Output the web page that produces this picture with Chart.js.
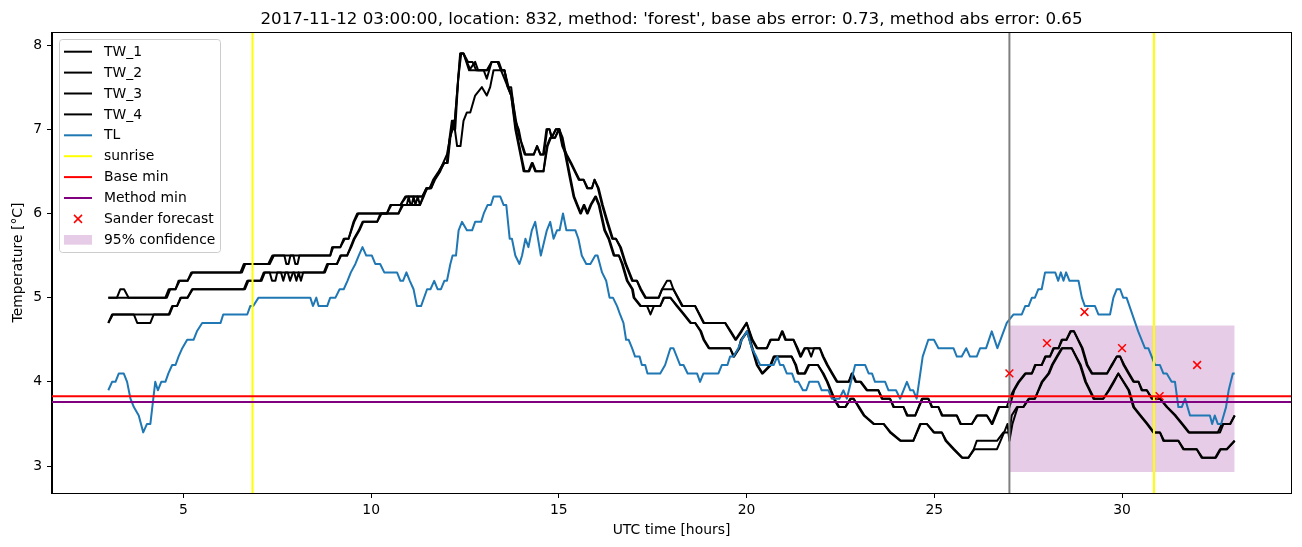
<!DOCTYPE html>
<html>
<head>
<meta charset="utf-8">
<script src="https://cdn.jsdelivr.net/npm/chart.js@4.4.1/dist/chart.umd.min.js"></script>
<style>
  html, body { margin: 0; padding: 0; background: #ffffff; }
  #wrap { width: 1302px; height: 547px; }
</style>
</head>
<body>
<div id="wrap"><canvas id="chart" width="1302" height="547"></canvas></div>
<script>
// [time in hours, temperature]
const tw1 = [[3.00,5.0],[3.23,5.0],[3.32,5.1],[3.42,5.1],[3.54,5.0],[4.52,5.0],[4.61,5.1],[4.79,5.1],[4.87,5.2],[5.11,5.2],[5.21,5.3],[6.52,5.3],[6.61,5.4],[7.26,5.4],[7.37,5.5],[7.69,5.5],[7.74,5.4],[7.80,5.4],[7.85,5.5],[8.91,5.5],[8.96,5.6],[9.18,5.6],[9.27,5.7],[9.40,5.7],[9.53,5.9],[9.63,6.0],[10.42,6.0],[10.51,6.1],[10.78,6.1],[10.91,6.2],[11.36,6.2],[11.47,6.3],[11.56,6.3],[11.65,6.4],[11.80,6.5],[11.93,6.6],[12.02,6.6],[12.09,6.9],[12.15,7.1],[12.21,7.0],[12.30,7.5],[12.37,7.9],[12.46,7.9],[12.61,7.7],[12.77,7.8],[12.85,7.7],[13.00,7.7],[13.08,7.6],[13.21,7.8],[13.37,7.8],[13.46,7.7],[13.55,7.7],[13.64,7.5],[13.73,7.5],[13.84,7.1],[13.93,7.0],[14.02,6.8],[14.09,6.7],[14.33,6.7],[14.42,6.8],[14.51,6.7],[14.58,6.7],[14.67,7.0],[14.75,7.0],[14.81,6.9],[14.92,7.0],[15.00,7.0],[15.09,6.8],[15.19,6.7],[15.31,6.6],[15.42,6.5],[15.53,6.4],[15.66,6.4],[15.75,6.3],[15.88,6.3],[15.95,6.4],[16.04,6.3],[16.15,6.1],[16.28,5.9],[16.42,5.7],[16.52,5.7],[16.63,5.6],[16.77,5.4],[16.86,5.3],[16.95,5.2],[17.08,5.2],[17.17,5.1],[17.30,5.0],[17.66,5.0],[17.75,5.1],[17.88,5.2],[17.97,5.2],[18.05,5.1],[18.28,4.9],[18.63,4.9],[18.85,4.7],[19.43,4.7],[19.56,4.6],[19.70,4.5],[19.85,4.6],[20.00,4.7],[20.14,4.5],[20.27,4.4],[20.54,4.4],[20.63,4.5],[20.85,4.5],[20.94,4.6],[21.03,4.5],[21.25,4.5],[21.34,4.4],[21.43,4.3],[21.54,4.4],[21.63,4.4],[21.72,4.3],[21.80,4.4],[21.95,4.4],[22.03,4.3],[22.14,4.2],[22.27,4.1],[22.40,4.0],[22.72,4.0],[22.80,4.1],[22.90,4.0],[23.03,4.0],[23.20,3.9],[23.51,3.9],[23.60,3.8],[23.82,3.8],[23.91,3.7],[24.18,3.7],[24.27,3.6],[24.49,3.6],[24.67,3.8],[24.84,3.8],[24.93,3.7],[25.11,3.7],[25.20,3.6],[25.60,3.6],[25.69,3.5],[26.00,3.5],[26.13,3.6],[26.40,3.6],[26.53,3.5],[26.71,3.7],[26.93,3.7],[27.00,3.8],[27.11,3.9],[27.24,4.0],[27.42,4.1],[27.60,4.1],[27.68,4.2],[27.86,4.2],[27.95,4.3],[28.08,4.3],[28.17,4.4],[28.31,4.4],[28.39,4.5],[28.52,4.5],[28.62,4.6],[28.72,4.6],[28.93,4.4],[29.06,4.2],[29.19,4.1],[29.60,4.1],[29.72,4.2],[29.86,4.3],[29.95,4.3],[30.04,4.2],[30.17,4.1],[30.30,4.0],[30.44,4.0],[30.52,3.9],[30.66,3.9],[30.79,3.8],[31.01,3.8],[31.19,3.7],[31.41,3.6],[31.59,3.5],[31.77,3.4],[32.61,3.4],[32.70,3.5],[32.88,3.5],[33.00,3.6]];

const tw2 = [[3.00,4.7],[3.10,4.8],[3.68,4.8],[3.77,4.7],[4.12,4.7],[4.21,4.8],[4.61,4.8],[4.70,4.9],[4.83,4.9],[4.92,5.0],[5.11,5.0],[5.23,5.1],[6.61,5.1],[6.70,5.2],[7.05,5.2],[7.14,5.3],[7.30,5.3],[7.36,5.2],[7.45,5.2],[7.50,5.3],[7.78,5.3],[7.84,5.2],[7.92,5.3],[8.74,5.3],[8.83,5.4],[9.09,5.4],[9.18,5.5],[9.36,5.5],[9.45,5.6],[9.54,5.7],[9.67,5.8],[9.77,5.9],[10.16,5.9],[10.25,6.0],[10.73,6.0],[10.82,6.1],[10.95,6.1],[11.00,6.2],[11.05,6.1],[11.30,6.1],[11.38,6.2],[11.47,6.3],[11.60,6.3],[11.68,6.4],[11.82,6.5],[11.92,6.6],[12.02,6.7],[12.10,6.9],[12.17,7.0],[12.24,7.0],[12.32,7.6],[12.40,7.9],[12.46,7.9],[12.55,7.8],[12.65,7.7],[13.08,7.7],[13.21,7.8],[13.37,7.8],[13.46,7.7],[13.55,7.7],[13.64,7.5],[13.73,7.4],[13.84,7.0],[14.02,6.6],[14.06,6.5],[14.19,6.5],[14.28,6.6],[14.37,6.5],[14.59,6.5],[14.68,6.8],[14.77,6.9],[14.90,6.9],[14.99,7.0],[15.08,6.9],[15.30,6.4],[15.39,6.2],[15.48,6.1],[15.57,6.0],[15.66,6.1],[15.75,6.0],[15.84,6.1],[15.97,6.2],[16.06,6.1],[16.21,5.8],[16.32,5.7],[16.46,5.5],[16.60,5.5],[16.68,5.4],[16.81,5.2],[16.95,5.1],[16.99,5.0],[17.17,4.9],[17.35,4.9],[17.44,4.8],[17.53,4.9],[17.70,4.9],[17.79,5.0],[17.97,5.0],[18.14,4.9],[18.32,4.8],[18.50,4.7],[18.63,4.7],[18.77,4.6],[18.85,4.5],[18.99,4.4],[19.56,4.4],[19.65,4.3],[19.79,4.4],[19.85,4.5],[20.01,4.6],[20.14,4.4],[20.27,4.2],[20.41,4.1],[20.63,4.2],[20.72,4.3],[20.90,4.3],[21.20,4.3],[21.30,4.2],[21.36,4.1],[21.54,4.1],[21.65,4.2],[21.90,4.2],[22.03,4.1],[22.14,4.0],[22.23,3.9],[22.32,3.8],[22.45,3.7],[22.63,3.7],[22.76,3.8],[22.85,3.8],[22.98,3.7],[23.12,3.6],[23.38,3.5],[23.65,3.5],[23.82,3.4],[24.09,3.3],[24.44,3.3],[24.62,3.5],[24.80,3.5],[24.98,3.4],[25.20,3.4],[25.30,3.3],[25.51,3.2],[25.73,3.1],[25.91,3.1],[26.05,3.2],[26.13,3.3],[26.45,3.3],[26.67,3.3],[26.84,3.4],[27.00,3.4],[27.06,3.6],[27.20,3.7],[27.37,3.7],[27.51,3.8],[27.68,3.8],[27.86,4.0],[28.04,4.1],[28.13,4.2],[28.26,4.3],[28.39,4.4],[28.66,4.4],[28.88,4.2],[29.02,4.0],[29.24,3.8],[29.50,3.8],[29.64,3.9],[29.77,4.0],[29.90,4.1],[30.17,3.9],[30.30,3.7],[30.48,3.6],[30.66,3.5],[30.83,3.4],[31.01,3.4],[31.10,3.3],[31.50,3.3],[31.63,3.2],[31.99,3.2],[32.12,3.1],[32.48,3.1],[32.61,3.2],[32.79,3.2],[33.00,3.3]];

const tw3 = [[3.00,5.0],[4.56,5.0],[4.65,5.1],[4.79,5.1],[4.90,5.2],[5.11,5.2],[5.24,5.3],[6.56,5.3],[6.65,5.4],[7.30,5.4],[7.41,5.5],[7.93,5.5],[7.98,5.4],[8.04,5.4],[8.09,5.5],[8.91,5.5],[8.99,5.6],[9.18,5.6],[9.30,5.7],[9.40,5.7],[9.55,5.9],[9.66,6.0],[10.42,6.0],[10.54,6.1],[10.78,6.1],[10.94,6.2],[11.36,6.2],[11.50,6.3],[11.56,6.3],[11.68,6.4],[11.82,6.5],[11.95,6.6],[12.04,6.6],[12.11,6.9],[12.17,7.1],[12.23,7.1],[12.32,7.6],[12.38,7.9],[12.46,7.9],[12.58,7.8],[12.70,7.8],[12.80,7.7],[13.00,7.7],[13.10,7.7],[13.21,7.8],[13.40,7.8],[13.48,7.7],[13.55,7.7],[13.66,7.5],[13.75,7.4],[13.86,7.1],[13.95,6.9],[14.04,6.8],[14.11,6.7],[14.33,6.7],[14.42,6.8],[14.51,6.7],[14.60,6.7],[14.69,7.0],[14.75,7.0],[14.81,6.9],[14.92,7.0],[15.02,7.0],[15.11,6.8],[15.21,6.7],[15.33,6.6],[15.44,6.5],[15.55,6.4],[15.66,6.4],[15.77,6.3],[15.88,6.3],[15.95,6.4],[16.06,6.3],[16.17,6.1],[16.30,5.9],[16.44,5.7],[16.52,5.7],[16.65,5.6],[16.79,5.4],[16.88,5.3],[16.97,5.2],[17.08,5.2],[17.19,5.1],[17.32,5.0],[17.66,5.0],[17.75,5.1],[18.05,5.1],[18.30,4.9],[18.63,4.9],[18.87,4.7],[19.43,4.7],[19.58,4.6],[19.72,4.5],[19.87,4.6],[20.00,4.7],[20.16,4.5],[20.29,4.4],[20.54,4.4],[20.65,4.5],[20.85,4.5],[20.96,4.6],[21.05,4.5],[21.25,4.5],[21.36,4.4],[21.45,4.3],[21.56,4.4],[21.95,4.4],[22.05,4.3],[22.16,4.2],[22.29,4.1],[22.42,4.0],[22.72,4.0],[22.82,4.1],[22.92,4.0],[23.05,4.0],[23.22,3.9],[23.51,3.9],[23.62,3.8],[23.82,3.8],[23.93,3.7],[24.18,3.7],[24.29,3.6],[24.49,3.6],[24.69,3.8],[24.84,3.8],[24.95,3.7],[25.11,3.7],[25.22,3.6],[25.60,3.6],[25.71,3.5],[26.00,3.5],[26.15,3.6],[26.40,3.6],[26.55,3.5],[26.73,3.7],[27.00,3.7],[27.13,3.9],[27.26,4.0],[27.44,4.1],[27.60,4.1],[27.70,4.2],[27.86,4.2],[27.97,4.3],[28.08,4.3],[28.19,4.4],[28.31,4.4],[28.41,4.5],[28.52,4.5],[28.64,4.6],[28.72,4.6],[28.95,4.4],[29.08,4.2],[29.21,4.1],[29.60,4.1],[29.74,4.2],[29.86,4.3],[29.95,4.3],[30.06,4.2],[30.19,4.1],[30.32,4.0],[30.44,4.0],[30.54,3.9],[30.66,3.9],[30.81,3.8],[31.01,3.8],[31.21,3.7],[31.43,3.6],[31.61,3.5],[31.79,3.4],[32.55,3.4],[32.66,3.5],[32.88,3.5],[33.00,3.6]];

const tw4 = [[3.00,4.7],[3.12,4.8],[4.63,4.8],[4.72,4.9],[4.83,4.9],[4.94,5.0],[5.11,5.0],[5.25,5.1],[6.64,5.1],[6.73,5.2],[7.08,5.2],[7.17,5.3],[7.60,5.3],[7.66,5.2],[7.72,5.3],[7.95,5.3],[8.01,5.2],[8.07,5.3],[8.13,5.2],[8.19,5.3],[8.77,5.3],[8.86,5.4],[9.09,5.4],[9.20,5.5],[9.36,5.5],[9.47,5.6],[9.56,5.7],[9.69,5.8],[9.79,5.9],[10.16,5.9],[10.28,6.0],[10.73,6.0],[10.85,6.1],[11.08,6.1],[11.13,6.2],[11.18,6.1],[11.24,6.2],[11.30,6.1],[11.40,6.2],[11.49,6.3],[11.60,6.3],[11.70,6.4],[11.84,6.5],[11.94,6.6],[12.02,6.6],[12.10,6.9],[12.20,7.1],[12.29,6.8],[12.38,6.8],[12.46,7.1],[12.55,7.2],[12.64,7.2],[12.77,7.4],[12.95,7.5],[13.08,7.4],[13.17,7.5],[13.26,7.7],[13.46,7.7],[13.55,7.6],[13.64,7.5],[13.73,7.4],[13.86,7.0],[14.04,6.6],[14.09,6.5],[14.21,6.5],[14.30,6.6],[14.39,6.5],[14.59,6.5],[14.70,6.8],[14.79,6.9],[14.90,6.9],[15.01,7.0],[15.10,6.9],[15.32,6.4],[15.41,6.2],[15.50,6.1],[15.59,6.0],[15.68,6.1],[15.77,6.0],[15.86,6.1],[15.99,6.2],[16.08,6.1],[16.23,5.8],[16.34,5.7],[16.48,5.5],[16.60,5.5],[16.70,5.4],[16.83,5.2],[16.97,5.1],[17.01,5.0],[17.19,4.9],[17.70,4.9],[17.81,5.0],[17.97,5.0],[18.16,4.9],[18.34,4.8],[18.52,4.7],[18.63,4.7],[18.79,4.6],[18.87,4.5],[19.01,4.4],[19.56,4.4],[19.67,4.3],[19.81,4.4],[19.87,4.5],[20.03,4.6],[20.16,4.4],[20.29,4.2],[20.43,4.1],[20.65,4.2],[20.74,4.3],[21.20,4.3],[21.32,4.2],[21.38,4.1],[21.56,4.1],[21.67,4.2],[21.90,4.2],[22.05,4.1],[22.16,4.0],[22.25,3.9],[22.34,3.8],[22.47,3.7],[22.63,3.7],[22.78,3.8],[22.85,3.8],[23.00,3.7],[23.14,3.6],[23.40,3.5],[23.65,3.5],[23.84,3.4],[24.11,3.3],[24.44,3.3],[24.64,3.5],[24.80,3.5],[25.00,3.4],[25.20,3.4],[25.32,3.3],[25.53,3.2],[25.75,3.1],[25.91,3.1],[26.07,3.2],[26.67,3.2],[26.86,3.4],[26.95,3.5],[27.00,3.3],[27.08,3.5],[27.22,3.7],[27.37,3.7],[27.53,3.8],[27.68,3.8],[27.88,4.0],[28.06,4.1],[28.15,4.2],[28.28,4.3],[28.41,4.4],[28.66,4.4],[28.90,4.2],[29.04,4.0],[29.26,3.8],[29.50,3.8],[29.66,3.9],[29.79,4.0],[29.90,4.1],[30.19,3.9],[30.32,3.7],[30.50,3.6],[30.68,3.5],[30.85,3.4],[31.01,3.4],[31.12,3.3],[31.50,3.3],[31.65,3.2],[31.99,3.2],[32.14,3.1],[32.50,3.1],[32.63,3.2],[32.79,3.2],[33.00,3.3]];

const tl = [[3.00,3.9],[3.10,4.0],[3.19,4.0],[3.28,4.1],[3.41,4.1],[3.50,4.0],[3.59,3.8],[3.68,3.7],[3.81,3.6],[3.93,3.4],[4.03,3.5],[4.12,3.5],[4.25,4.0],[4.32,3.9],[4.41,4.0],[4.52,4.0],[4.60,4.1],[4.70,4.2],[4.79,4.2],[4.87,4.3],[4.97,4.4],[5.10,4.5],[5.27,4.5],[5.36,4.6],[5.50,4.7],[5.99,4.7],[6.06,4.8],[6.70,4.8],[6.78,4.9],[6.86,4.9],[7.00,5.0],[8.38,5.0],[8.45,4.9],[8.54,5.0],[8.60,4.9],[8.83,4.9],[8.91,5.0],[9.05,5.0],[9.16,5.1],[9.27,5.1],[9.37,5.2],[9.46,5.3],[9.58,5.4],[9.67,5.5],[9.77,5.6],[9.87,5.5],[10.02,5.5],[10.11,5.4],[10.24,5.4],[10.35,5.3],[10.69,5.3],[10.78,5.2],[10.85,5.2],[10.94,5.3],[11.03,5.2],[11.13,5.1],[11.22,4.9],[11.33,4.9],[11.49,5.1],[11.58,5.1],[11.68,5.2],[11.77,5.1],[11.86,5.1],[11.95,5.2],[12.02,5.2],[12.11,5.4],[12.17,5.5],[12.26,5.5],[12.33,5.8],[12.42,5.9],[12.55,5.8],[12.69,5.8],[12.77,5.9],[12.93,5.9],[13.00,6.0],[13.10,6.1],[13.19,6.1],[13.26,6.2],[13.44,6.2],[13.53,6.1],[13.60,6.1],[13.69,5.7],[13.75,5.7],[13.84,5.5],[13.95,5.4],[14.02,5.5],[14.11,5.7],[14.19,5.6],[14.28,5.8],[14.37,5.9],[14.52,5.5],[14.68,5.8],[14.77,5.9],[14.86,5.7],[14.95,5.8],[15.02,5.8],[15.11,6.0],[15.20,5.8],[15.44,5.8],[15.52,5.7],[15.61,5.5],[15.73,5.4],[15.84,5.4],[15.97,5.5],[16.03,5.5],[16.15,5.3],[16.26,5.2],[16.35,5.0],[16.44,5.0],[16.55,4.9],[16.63,4.8],[16.72,4.7],[16.79,4.5],[16.86,4.5],[16.95,4.4],[17.03,4.3],[17.15,4.3],[17.21,4.2],[17.30,4.2],[17.36,4.1],[17.70,4.1],[17.83,4.2],[17.97,4.4],[18.05,4.4],[18.14,4.3],[18.23,4.2],[18.32,4.2],[18.43,4.1],[18.68,4.1],[18.76,4.0],[18.85,4.1],[19.25,4.1],[19.34,4.2],[19.49,4.2],[19.56,4.3],[19.65,4.3],[19.78,4.4],[19.87,4.5],[20.01,4.6],[20.14,4.4],[20.26,4.3],[20.36,4.2],[20.72,4.2],[20.82,4.3],[20.89,4.2],[20.98,4.2],[21.07,4.1],[21.21,4.1],[21.29,4.0],[21.38,4.0],[21.50,3.9],[21.59,3.9],[21.67,4.0],[21.91,4.0],[22.00,3.9],[22.18,3.9],[22.27,3.8],[22.47,3.8],[22.58,3.9],[22.67,3.8],[22.89,4.2],[23.16,4.2],[23.25,4.1],[23.34,4.1],[23.42,4.0],[23.69,4.0],[23.78,3.9],[23.98,3.9],[24.09,3.8],[24.27,4.0],[24.36,3.9],[24.44,3.9],[24.53,3.8],[24.69,4.3],[24.84,4.5],[24.99,4.5],[25.11,4.4],[25.51,4.4],[25.60,4.3],[25.73,4.3],[25.85,4.4],[25.95,4.3],[26.13,4.3],[26.22,4.4],[26.38,4.4],[26.53,4.6],[26.68,4.4],[26.93,4.7],[27.11,4.8],[27.33,4.8],[27.42,4.9],[27.51,4.9],[27.60,5.0],[27.68,5.0],[27.77,5.1],[27.86,5.1],[27.95,5.3],[28.22,5.3],[28.30,5.2],[28.37,5.3],[28.44,5.2],[28.51,5.3],[28.60,5.2],[28.84,5.2],[28.93,5.0],[29.01,4.9],[29.28,4.9],[29.37,4.8],[29.68,4.8],[29.77,5.0],[29.86,5.1],[29.95,5.1],[30.03,5.0],[30.12,5.0],[30.43,4.6],[30.61,4.4],[30.70,4.4],[30.88,4.2],[31.01,4.2],[31.10,4.1],[31.19,4.1],[31.32,4.0],[31.41,4.0],[31.50,3.7],[31.59,3.7],[31.68,3.8],[31.81,3.6],[32.34,3.6],[32.40,3.5],[32.47,3.6],[32.55,3.5],[32.64,3.5],[32.77,3.7],[32.84,3.9],[32.95,4.1],[33.00,4.1]];

const sunriseTimes = [6.84, 30.85];
const forecastTime = 27.0;
const baseMin = 3.83;
const methodMin = 3.76;
const sanderHours = [27, 28, 29, 30, 31, 32];
const sanderTemps = [4.10, 4.46, 4.83, 4.40, 3.83, 4.20];
const confHours = [27.0, 33.0];
const confLow = 2.93;
const confHigh = 4.67;

const xTicks = [5, 10, 15, 20, 25, 30];
const yTicks = [3, 4, 5, 6, 7, 8];
const xMin = 1.5, xMax = 34.5;
const yMin = 2.68, yMax = 8.155;

const titleText = "2017-11-12 03:00:00, location: 832, method: 'forest', base abs error: 0.73, method abs error: 0.65";
const FONT = 'DejaVu Sans';

const toXY = pts => pts.map(p => ({x: p[0], y: p[1]}));

function line(label, data, color, order) {
  return {
    label: label, data: data, borderColor: color, backgroundColor: color,
    borderWidth: 2, pointRadius: 0, fill: false, tension: 0,
    borderJoinStyle: 'round', order: order
  };
}

const datasets = [
  line('TW_1', toXY(tw1), '#000000', 8),
  line('TW_2', toXY(tw2), '#000000', 8),
  line('TW_3', toXY(tw3), '#000000', 8),
  line('TW_4', toXY(tw4), '#000000', 8),
  line('TL', toXY(tl), '#1f77b4', 7),
  line('sunrise', [{x: sunriseTimes[0], y: yMin}, {x: sunriseTimes[0], y: yMax}], '#ffff00', 6),
  line('sunrise2', [{x: sunriseTimes[1], y: yMin}, {x: sunriseTimes[1], y: yMax}], '#ffff00', 6),
  line('forecast', [{x: forecastTime, y: yMin}, {x: forecastTime, y: yMax}], '#808080', 6),
  line('Base min', [{x: xMin, y: baseMin}, {x: xMax, y: baseMin}], '#ff0000', 5),
  line('Method min', [{x: xMin, y: methodMin}, {x: xMax, y: methodMin}], '#800080', 4),
  {
    label: 'Sander forecast',
    data: sanderHours.map((h, i) => ({x: h, y: sanderTemps[i]})),
    showLine: false, pointStyle: 'crossRot', pointRadius: 5.5,
    pointBorderColor: '#ff0000', pointBorderWidth: 1.5, borderColor: '#ff0000', order: 1
  },
  {
    label: '95% confidence',
    data: confHours.map(h => ({x: h, y: confHigh})),
    borderWidth: 0, pointRadius: 0, borderColor: 'rgba(0,0,0,0)',
    backgroundColor: 'rgba(128,0,128,0.2)', fill: {value: confLow}, order: 10
  }
];

const legendItems = [
  {label: 'TW_1', kind: 'line', color: '#000000'},
  {label: 'TW_2', kind: 'line', color: '#000000'},
  {label: 'TW_3', kind: 'line', color: '#000000'},
  {label: 'TW_4', kind: 'line', color: '#000000'},
  {label: 'TL', kind: 'line', color: '#1f77b4'},
  {label: 'sunrise', kind: 'line', color: '#ffff00'},
  {label: 'Base min', kind: 'line', color: '#ff0000'},
  {label: 'Method min', kind: 'line', color: '#800080'},
  {label: 'Sander forecast', kind: 'cross', color: '#ff0000'},
  {label: '95% confidence', kind: 'patch', color: 'rgba(128,0,128,0.2)'}
];

const framePlugin = {
  id: 'frame',
  afterDatasetsDraw(chart) {
    const {ctx, chartArea: a} = chart;
    ctx.save();
    ctx.strokeStyle = '#000';
    ctx.lineWidth = 1;
    ctx.strokeRect(Math.round(a.left) - 0.5, Math.round(a.top) + 0.5,
                   Math.round(a.right - a.left) + 1, Math.round(a.bottom - a.top));
    ctx.restore();
  },
  afterDraw(chart) {
    const {ctx, chartArea: a} = chart;
    ctx.save();
    // title
    ctx.fillStyle = '#000';
    ctx.font = '16.7px "' + FONT + '"';
    ctx.textAlign = 'center';
    ctx.textBaseline = 'alphabetic';
    ctx.fillText(titleText, (a.left + a.right) / 2, 24);

    // legend box
    const bx = 59.5, by = 39.5, bw = 161, bh = 213, r = 3;
    ctx.beginPath();
    ctx.moveTo(bx + r, by);
    ctx.arcTo(bx + bw, by, bx + bw, by + bh, r);
    ctx.arcTo(bx + bw, by + bh, bx, by + bh, r);
    ctx.arcTo(bx, by + bh, bx, by, r);
    ctx.arcTo(bx, by, bx + bw, by, r);
    ctx.closePath();
    ctx.fillStyle = 'rgba(255,255,255,0.8)';
    ctx.fill();
    ctx.strokeStyle = '#cccccc';
    ctx.lineWidth = 1;
    ctx.stroke();

    ctx.font = '13.9px "' + FONT + '"';
    ctx.textAlign = 'left';
    ctx.textBaseline = 'middle';
    legendItems.forEach((it, i) => {
      const y = 51.7 + i * 20.9;
      if (it.kind === 'line') {
        ctx.strokeStyle = it.color;
        ctx.lineWidth = 2;
        ctx.beginPath();
        ctx.moveTo(64, y);
        ctx.lineTo(92, y);
        ctx.stroke();
      } else if (it.kind === 'cross') {
        ctx.strokeStyle = it.color;
        ctx.lineWidth = 1.5;
        ctx.beginPath();
        ctx.moveTo(74, y - 4); ctx.lineTo(82, y + 4);
        ctx.moveTo(74, y + 4); ctx.lineTo(82, y - 4);
        ctx.stroke();
      } else {
        ctx.fillStyle = it.color;
        ctx.fillRect(64, y - 4.8, 28, 9.7);
      }
      ctx.fillStyle = '#000';
      ctx.fillText(it.label, 104, y + 0.5);
    });
    ctx.restore();
  }
};

const tickFont = {family: FONT, size: 13.9};

new Chart(document.getElementById('chart'), {
  type: 'line',
  data: {datasets: datasets},
  options: {
    responsive: false,
    animation: false,
    events: [],
    layout: {padding: {left: 0, right: 11, top: 32, bottom: 0}},
    plugins: {legend: {display: false}, tooltip: {enabled: false}, title: {display: false}},
    scales: {
      x: {
        type: 'linear', min: xMin, max: xMax,
        afterBuildTicks: s => { s.ticks = xTicks.map(v => ({value: v})); },
        afterFit: s => { s.height = 54; },
        grid: {display: true, drawOnChartArea: false, drawTicks: true, tickLength: 5, tickColor: '#000', tickWidth: 1},
        border: {display: true, color: '#000', width: 1},
        ticks: {color: '#000', font: tickFont, padding: 4, maxRotation: 0, autoSkip: false},
        title: {display: true, text: 'UTC time [hours]', color: '#000', font: tickFont, padding: {top: 0, bottom: 8.7}}
      },
      y: {
        type: 'linear', min: yMin, max: yMax,
        afterBuildTicks: s => { s.ticks = yTicks.map(v => ({value: v})); },
        afterFit: s => { s.width = 52; },
        grid: {display: true, drawOnChartArea: false, drawTicks: true, tickLength: 5, tickColor: '#000', tickWidth: 1},
        border: {display: true, color: '#000', width: 1},
        ticks: {color: '#000', font: tickFont, padding: 5, autoSkip: false},
        title: {display: true, text: 'Temperature [°C]', color: '#000', font: tickFont, padding: {top: 9.7, bottom: 0}}
      }
    }
  },
  plugins: [framePlugin]
});
</script>
</body>
</html>
